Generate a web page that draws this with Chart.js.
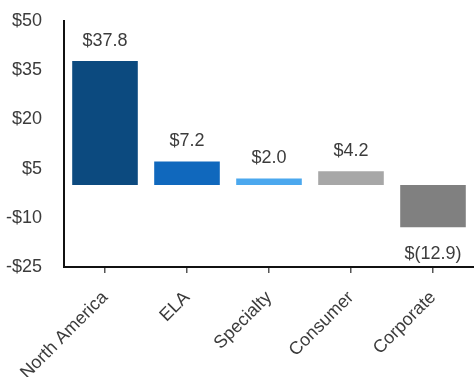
<!DOCTYPE html>
<html>
<head>
<meta charset="utf-8">
<script src="https://cdn.jsdelivr.net/npm/chart.js@4/dist/chart.umd.min.js"></script>
<style>
html,body{margin:0;padding:0;background:#fff;}
#wrap{width:474px;height:377px;position:relative;}
</style>
</head>
<body>
<div id="wrap"><canvas id="c" width="474" height="377"></canvas></div>
<script>
const categories = ['North America', 'ELA', 'Specialty', 'Consumer', 'Corporate'];
const values = [37.8, 7.2, 2.0, 4.2, -12.9];
const valueLabels = ['$37.8', '$7.2', '$2.0', '$4.2', '$(12.9)'];
const barColors = ['#0c4a7f', '#1068bd', '#4ba8ee', '#a7a7a7', '#808080'];
const yTicks = [50, 35, 20, 5, -10, -25];

const FONT = '"Liberation Sans", Arial, sans-serif';
const TEXT = '#3c3c3c';

const labelPlugin = {
  id: 'valueLabels',
  afterDatasetsDraw(chart) {
    const ctx = chart.ctx;
    const meta = chart.getDatasetMeta(0);
    ctx.save();
    ctx.font = '18px ' + FONT;
    ctx.fillStyle = TEXT;
    ctx.textAlign = 'center';
    ctx.textBaseline = 'middle';
    meta.data.forEach((el, i) => {
      const v = values[i];
      const y = v >= 0 ? el.y - 20 : el.y + 27;
      ctx.fillText(valueLabels[i], el.x, y);
    });
    ctx.restore();
  }
};

new Chart(document.getElementById('c'), {
  type: 'bar',
  data: {
    labels: categories,
    datasets: [{
      data: values,
      backgroundColor: barColors,
      borderWidth: 0,
      barPercentage: 0.8,
      categoryPercentage: 1.0
    }]
  },
  options: {
    responsive: false,
    animation: false,
    devicePixelRatio: 1,
    layout: { padding: { top: 21, right: 0, left: 0, bottom: 0 } },
    plugins: { legend: { display: false }, tooltip: { enabled: false } },
    scales: {
      x: {
        offset: true,
        grid: {
          display: true,
          offset: false,
          drawOnChartArea: false,
          drawTicks: true,
          tickLength: 6,
          color: '#555',
          lineWidth: 1.5
        },
        border: { display: true, color: '#111', width: 2 },
        ticks: {
          minRotation: 45,
          maxRotation: 45,
          color: TEXT,
          font: { family: FONT, size: 18 },
          padding: 14
        },
        afterFit(scale) { scale.height = 110; }
      },
      y: {
        min: -25,
        max: 50,
        afterBuildTicks(scale) { scale.ticks = yTicks.map(v => ({ value: v })); },
        grid: { display: false, drawTicks: false },
        border: { display: true, color: '#111', width: 2 },
        ticks: {
          color: TEXT,
          font: { family: FONT, size: 18 },
          padding: 22,
          callback(v) { return v < 0 ? '-$' + Math.abs(v) : '$' + v; }
        },
        afterFit(scale) { scale.width = 64; scale.paddingTop = 10; scale.paddingBottom = 0; }
      }
    }
  },
  plugins: [labelPlugin]
});
</script>
</body>
</html>
